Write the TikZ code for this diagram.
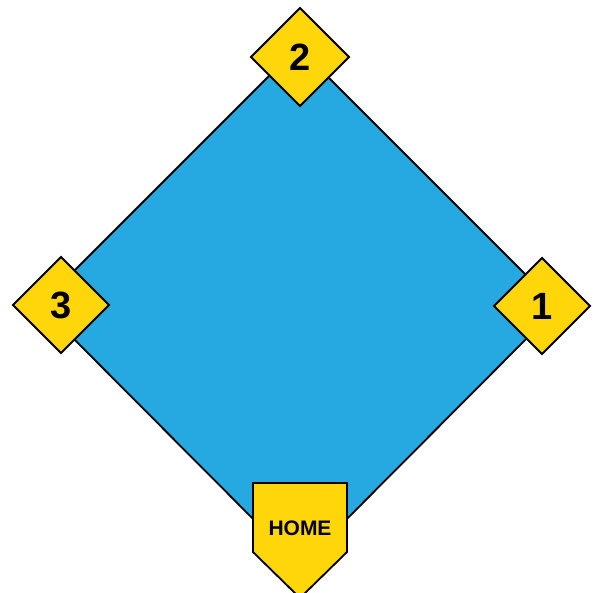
\documentclass[tikz,border=0pt]{standalone}
\usepackage{fontspec}
\setmainfont{Liberation Sans}
\usetikzlibrary{calc}
\definecolor{fieldblue}{RGB}{38,168,224}
\definecolor{baseyellow}{RGB}{255,214,10}
\begin{document}
\begin{tikzpicture}[x=1pt,y=-1pt,
  field/.style={fill=fieldblue,draw=black,line width=1.8pt,line join=miter},
  basebox/.style={fill=baseyellow,draw=black,line width=1.8pt,line join=miter},
  numlabel/.style={font=\bfseries\fontsize{38}{38}\selectfont,inner sep=0pt},
  homelabel/.style={font=\bfseries\fontsize{21}{21}\selectfont,inner sep=0pt}]
\useasboundingbox (0,0) rectangle (596,592);
\begin{scope}
\clip (0,0) rectangle (596,592);
% infield
\coordinate (ftop) at (298,47);
\coordinate (fright) at (558,307);
\coordinate (fbottom) at (300,566);
\coordinate (fleft) at (40,305);
\draw[field] (ftop) -- (fright) -- (fbottom) -- (fleft) -- cycle;
% second base
\coordinate (b2) at (300,57);
\draw[basebox] ($(b2)+(0,-49)$) -- ($(b2)+(49,0)$) -- ($(b2)+(0,49)$) -- ($(b2)+(-49,0)$) -- cycle;
\node[numlabel] (l2) at (b2) {2};
% third base
\coordinate (b3) at (61,305);
\draw[basebox] ($(b3)+(0,-48)$) -- ($(b3)+(48,0)$) -- ($(b3)+(0,48)$) -- ($(b3)+(-48,0)$) -- cycle;
\node[numlabel] (l3) at (b3) {3};
% first base
\coordinate (b1) at (542,306);
\draw[basebox] ($(b1)+(0,-48)$) -- ($(b1)+(48,0)$) -- ($(b1)+(0,48)$) -- ($(b1)+(-48,0)$) -- cycle;
\node[numlabel] (l1) at (b1) {1};
% home plate
\coordinate (h1) at (253,483);
\coordinate (h2) at (347,483);
\coordinate (h3) at (347,552);
\coordinate (h4) at (300,598);
\coordinate (h5) at (253,552);
\draw[basebox] (h1) -- (h2) -- (h3) -- (h4) -- (h5) -- cycle;
\node[homelabel] (lh) at (300,528) {HOME};
\end{scope}
\end{tikzpicture}
\end{document}
